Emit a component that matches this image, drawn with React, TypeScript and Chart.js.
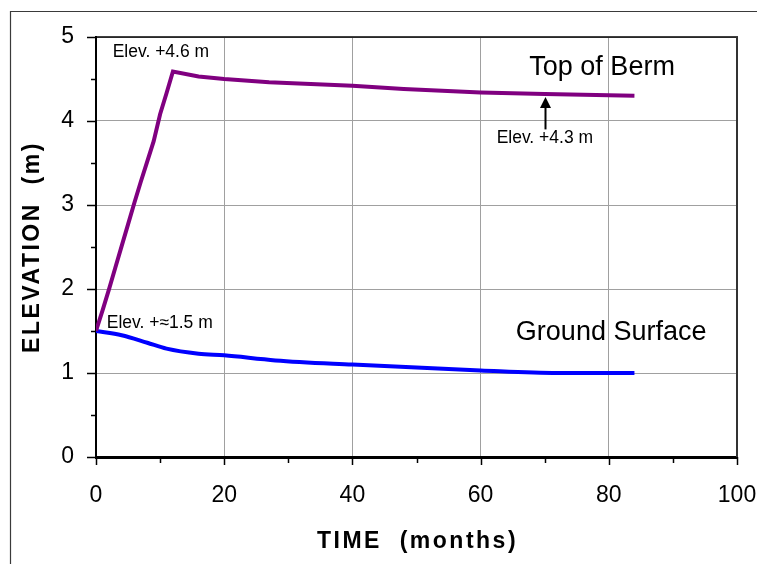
import React, { useEffect, useRef } from 'react';
import { Chart, registerables } from 'chart.js';

Chart.register(...registerables);

// ---- data ----
const bermMonths = [0, 1, 2, 3, 4, 5, 6, 7, 8, 9, 10, 11, 12, 16, 20, 27, 40, 48, 60, 70, 84];
const bermElevation = [1.5, 1.74, 1.99, 2.25, 2.51, 2.77, 3.03, 3.28, 3.52, 3.76, 4.08, 4.33, 4.59, 4.53, 4.5, 4.46, 4.42, 4.38, 4.34, 4.32, 4.3];

const groundMonths = [0, 4, 8, 11, 16, 20, 28, 40, 60, 72, 84];
const groundElevation = [1.5, 1.45, 1.36, 1.29, 1.23, 1.21, 1.15, 1.1, 1.03, 1.0, 1.0];

const xTicks = [0, 20, 40, 60, 80, 100];
const yTicks = [0, 1, 2, 3, 4, 5];

const xTitle = 'TIME  (months)';
const yTitle = 'ELEVATION  (m)';

// annotation texts (anchored in data units)
const annotationTexts = ['Elev. +4.6 m', 'Top of Berm', 'Elev. +4.3 m', 'Elev. +≈1.5 m', 'Ground Surface'];
const annotationX = [2.6, 67.6, 62.5, 1.67, 65.5];
const annotationY = [4.76, 4.55, 3.74, 1.53, 1.39];
const annotationSize = [17.5, 27, 17.5, 17.5, 27];

// arrow pointing to the berm level at 70 months
const arrowX = 70;
const arrowFromY = 3.9;
const arrowToY = 4.285;

const FONT = '"Liberation Sans", Arial, Helvetica, sans-serif';

const decorPlugin = {
  id: 'decor',
  afterDraw(chart: any) {
    const { ctx, chartArea: a, scales } = chart;
    const xs = scales.x;
    const ys = scales.y;
    ctx.save();

    // outer frame (left + top)
    ctx.strokeStyle = '#3a3a3a';
    ctx.lineWidth = 1.2;
    ctx.beginPath();
    ctx.moveTo(10.5, chart.height);
    ctx.lineTo(10.5, 11.5);
    ctx.lineTo(chart.width, 11.5);
    ctx.stroke();

    // top & right plot borders
    ctx.strokeStyle = '#000';
    ctx.lineWidth = 1.5;
    ctx.beginPath();
    ctx.moveTo(a.left, a.top);
    ctx.lineTo(a.right + 1, a.top);
    ctx.stroke();
    ctx.strokeStyle = '#333';
    ctx.lineWidth = 2;
    ctx.beginPath();
    ctx.moveTo(a.right, a.top);
    ctx.lineTo(a.right, a.bottom);
    ctx.stroke();

    // tick marks
    ctx.strokeStyle = '#000';
    ctx.lineWidth = 1.5;
    for (let v = 0; v <= 5.0001; v += 0.5) {
      const py = Math.round(ys.getPixelForValue(v)) + 0.5;
      const major = Math.abs(v - Math.round(v)) < 1e-6;
      ctx.beginPath();
      ctx.moveTo(a.left - (major ? 9 : 5), py);
      ctx.lineTo(a.left, py);
      ctx.stroke();
    }
    for (let v = 0; v <= 100.001; v += 10) {
      const px = Math.round(xs.getPixelForValue(v)) + 0.5;
      const major = v % 20 === 0;
      ctx.beginPath();
      ctx.moveTo(px, a.bottom);
      ctx.lineTo(px, a.bottom + (major ? 8 : 6));
      ctx.stroke();
    }

    // annotations
    ctx.fillStyle = '#000';
    ctx.textAlign = 'left';
    ctx.textBaseline = 'alphabetic';
    for (let i = 0; i < annotationTexts.length; i++) {
      ctx.font = `${annotationSize[i]}px ${FONT}`;
      ctx.fillText(annotationTexts[i], xs.getPixelForValue(annotationX[i]), ys.getPixelForValue(annotationY[i]));
    }

    // arrow
    const ax = Math.round(xs.getPixelForValue(arrowX)) + 0.5;
    const y0 = ys.getPixelForValue(arrowFromY);
    const y1 = ys.getPixelForValue(arrowToY);
    ctx.lineWidth = 2;
    ctx.beginPath();
    ctx.moveTo(ax, y0);
    ctx.lineTo(ax, y1 + 8);
    ctx.stroke();
    ctx.beginPath();
    ctx.moveTo(ax, y1);
    ctx.lineTo(ax - 5.5, y1 + 11);
    ctx.lineTo(ax + 5.5, y1 + 11);
    ctx.closePath();
    ctx.fill();

    // axis titles
    ctx.font = `bold 23px ${FONT}`;
    (ctx as any).letterSpacing = '2.5px';
    ctx.textAlign = 'center';
    ctx.fillText(xTitle, (a.left + a.right) / 2 + 1, 548);
    ctx.save();
    ctx.translate(38.5, (a.top + a.bottom) / 2);
    ctx.rotate(-Math.PI / 2);
    ctx.fillText(yTitle, 0, 0);
    ctx.restore();
    (ctx as any).letterSpacing = '0px';

    ctx.restore();
  },
};

export default function App() {
  const ref = useRef<HTMLCanvasElement | null>(null);

  useEffect(() => {
    if (!ref.current) return;
    const chart = new Chart(ref.current, {
      type: 'line',
      data: {
        datasets: [
          {
            label: 'Top of Berm',
            data: bermMonths.map((m, i) => ({ x: m, y: bermElevation[i] })),
            borderColor: '#800080',
            borderWidth: 4,
            pointRadius: 0,
            tension: 0,
            fill: false,
          },
          {
            label: 'Ground Surface',
            data: groundMonths.map((m, i) => ({ x: m, y: groundElevation[i] })),
            borderColor: '#0000ff',
            borderWidth: 4,
            pointRadius: 0,
            cubicInterpolationMode: 'monotone',
            fill: false,
          },
        ],
      },
      options: {
        animation: false,
        responsive: false,
        devicePixelRatio: 1,
        layout: { padding: { top: 37, right: 20, left: 0, bottom: 0 } },
        plugins: { legend: { display: false }, tooltip: { enabled: false } },
        scales: {
          x: {
            type: 'linear',
            min: 0,
            max: 100,
            afterFit: (s: any) => {
              s.height = 107;
              s.paddingLeft = 0;
              s.paddingRight = 0;
            },
            afterBuildTicks: (s: any) => {
              s.ticks = xTicks.map((v) => ({ value: v }));
            },
            ticks: {
              autoSkip: false,
              maxRotation: 0,
              padding: 25,
              color: '#000',
              font: { family: FONT, size: 23 },
            },
            grid: { color: '#a0a0a0', lineWidth: 1, drawTicks: false },
            border: { color: '#000', width: 3 },
          },
          y: {
            type: 'linear',
            min: 0,
            max: 5,
            afterFit: (s: any) => {
              s.width = 96;
              s.paddingTop = 0;
              s.paddingBottom = 0;
            },
            afterBuildTicks: (s: any) => {
              s.ticks = yTicks.map((v) => ({ value: v }));
            },
            ticks: {
              autoSkip: false,
              padding: 22,
              color: '#000',
              font: { family: FONT, size: 23 },
            },
            grid: { color: '#a0a0a0', lineWidth: 1, drawTicks: false },
            border: { color: '#000', width: 2 },
          },
        },
      },
      plugins: [decorPlugin],
    });
    return () => chart.destroy();
  }, []);

  return (
    <div style={{ position: 'absolute', left: 0, top: 0, width: 757, height: 564, background: '#fff' }}>
      <canvas ref={ref} width={757} height={564} style={{ width: 757, height: 564, display: 'block' }} />
    </div>
  );
}
